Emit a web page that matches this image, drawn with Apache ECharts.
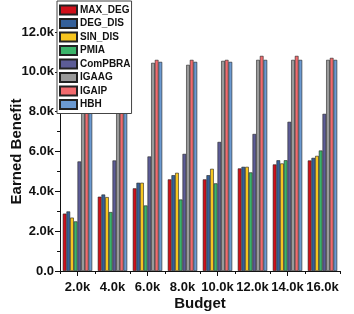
<!DOCTYPE html>
<html><head><meta charset="utf-8">
<script src="https://cdn.jsdelivr.net/npm/echarts@6/dist/echarts.min.js"></script>
<style>html,body{margin:0;padding:0;background:#fff}#c{width:354px;height:314px}</style>
</head><body><div id="c"></div>
<script>
var categories = ['2.0k','4.0k','6.0k','8.0k','10.0k','12.0k','14.0k','16.0k'];
var seriesNames = ['MAX_DEG','DEG_DIS','SIN_DIS','PMIA','ComPBRA','IGAAG','IGAIP','HBH'];
var MAX_DEG = [2880, 3730, 4150, 4600, 4600, 5150, 5350, 5550];
var DEG_DIS = [2990, 3840, 4430, 4810, 4810, 5230, 5560, 5680];
var SIN_DIS = [2680, 3710, 4430, 4930, 5130, 5230, 5400, 5780];
var PMIA    = [2490, 2960, 3290, 3590, 4400, 4950, 5560, 6050];
var ComPBRA = [5500, 5550, 5750, 5880, 6480, 6880, 7490, 7890];
var IGAAG   = [10400, 10400, 10450, 10350, 10550, 10600, 10600, 10600];
var IGAIP   = [10550, 10550, 10600, 10600, 10600, 10800, 10800, 10700];
var HBH     = [10500, 10450, 10500, 10500, 10500, 10600, 10600, 10600];
var yTicks = [0, 2000, 4000, 6000, 8000, 10000, 12000];
var colors = ['#d0101a','#34609a','#f7c520','#3bb46a','#5c5c96','#9a9a9a','#f26b6e','#6b9ad2'];
var dataArr = [MAX_DEG, DEG_DIS, SIN_DIS, PMIA, ComPBRA, IGAAG, IGAIP, HBH];

var font = 'Liberation Sans, Arial, sans-serif';
var chart = echarts.init(document.getElementById('c'));
var series = seriesNames.map(function(n, i){
  return {
    name: n, type: 'bar', data: dataArr[i], xAxisIndex: 0,
    barGap: '0%', barCategoryGap: '16%',
    itemStyle: {color: colors[i], borderColor: '#222', borderWidth: 0.6}
  };
});
chart.setOption({
  animation: false,
  backgroundColor: '#fff',
  grid: {left: 60, right: 14, top: 32, bottom: 43, containLabel: false, outerBoundsMode: 'none'},
  legend: {
    orient: 'vertical', left: 57, top: 1,
    backgroundColor: '#fff', borderColor: '#444', borderWidth: 1,
    padding: [3, 1, 3, 2],
    itemWidth: 17, itemHeight: 9, itemGap: 1.5,
    icon: 'rect',
    textStyle: {fontFamily: font, fontWeight: 'bold', fontSize: 10, lineHeight: 12, color: '#111', padding: [0,0,0,-2]},
    data: seriesNames
  },
  xAxis: [{
    type: 'category', data: categories, boundaryGap: true,
    name: 'Budget', nameLocation: 'middle', nameGap: 25, nameMoveOverlap: false,
    nameTextStyle: {fontFamily: font, fontWeight: 'bold', fontSize: 15, color: '#111'},
    axisLine: {lineStyle: {color: '#111', width: 1}},
    axisTick: {show: true, length: 3, alignWithLabel: false, lineStyle: {color: '#111'}},
    axisLabel: {fontFamily: font, fontWeight: 'bold', fontSize: 13, color: '#111', margin: 10, interval: 0},
    splitLine: {show: false}
  }, {
    type: 'category', data: categories, position: 'bottom', boundaryGap: true,
    axisLine: {show: false},
    axisTick: {show: true, length: 5, alignWithLabel: true, lineStyle: {color: '#111'}},
    axisLabel: {show: false}, splitLine: {show: false}
  }],
  yAxis: {
    type: 'value', min: 0, max: 12000, interval: 2000,
    name: 'Earned Benefit', nameLocation: 'middle', nameGap: 36, nameMoveOverlap: false,
    nameTextStyle: {fontFamily: font, fontWeight: 'bold', fontSize: 15, color: '#111'},
    axisLine: {show: true, lineStyle: {color: '#111', width: 1}},
    axisTick: {show: true, length: 5, lineStyle: {color: '#111'}},
    minorTick: {show: true, splitNumber: 2, length: 3, lineStyle: {color: '#111'}},
    axisLabel: {fontFamily: font, fontWeight: 'bold', fontSize: 13, color: '#111', margin: 6,
      formatter: function(v){ return v === 0 ? '0.0' : (v/1000).toFixed(1) + 'k'; }},
    splitLine: {show: false}
  },
  series: series
});
</script>
</body></html>
